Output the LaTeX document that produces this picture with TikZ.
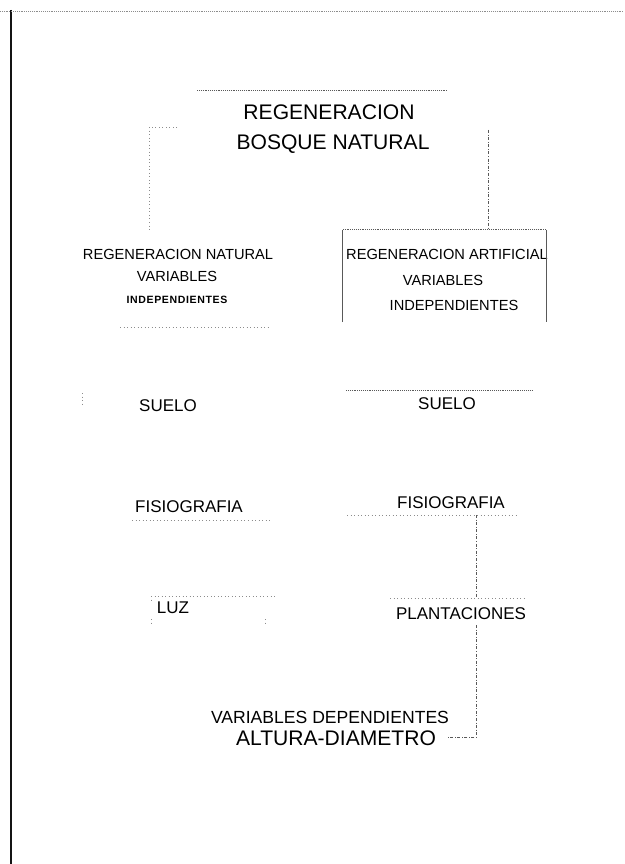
\documentclass[tikz,border=0pt]{standalone}
\usepackage{fontspec}
\setmainfont{Liberation Sans}
\definecolor{FrameClr}{rgb}{0.08,0.08,0.08}
\definecolor{RuleClr}{rgb}{0.35,0.35,0.35}
\definecolor{FaintClr}{rgb}{0.55,0.55,0.55}

\begin{document}
\begin{tikzpicture}[x=0.3mm,y=-0.3mm,
  titletxt/.style={inner sep=0pt,anchor=base,font=\fontsize{18}{20}\selectfont},
  midtxt/.style={inner sep=0pt,anchor=base,font=\fontsize{14.5}{16}\selectfont},
  boxtxt/.style={inner sep=0pt,anchor=base,font=\fontsize{12.5}{14}\selectfont},
  mintxt/.style={inner sep=0pt,anchor=base,font=\fontsize{9}{10}\selectfont\bfseries\addfontfeature{LetterSpace=6}},
  rule/.style={RuleClr,line width=0.6pt,densely dotted},
  faint/.style={FaintClr,line width=0.5pt,dash pattern=on 0.6pt off 2.4pt},
  link/.style={RuleClr,line width=0.6pt,dash pattern=on 2.5pt off 1.5pt on 0.6pt off 1.5pt}]

\useasboundingbox (0,0) rectangle (624,864);

\draw[FrameClr,line width=1.3pt] (11,10) -- (11,864);
\draw[rule,FaintClr] (0,11) -- (624,11);

\node[titletxt] (regA) at (329,120) {REGENERACION};
\node[titletxt] (regB) at (333,150) {BOSQUE NATURAL};

\node[boxtxt] (natA) at (178,260) {REGENERACION NATURAL};
\node[boxtxt] (natB) at (177,282) {VARIABLES};
\node[mintxt] (natC) at (177,303) {INDEPENDIENTES};

\node[minimum width=60.9mm,minimum height=27.6mm,inner sep=0pt] (art) at (444.5,276) {};
\node[boxtxt] (artA) at (447,260) {REGENERACION ARTIFICIAL};
\node[boxtxt] (artB) at (443,286) {VARIABLES};
\node[boxtxt] (artC) at (454,310) {INDEPENDIENTES};

\node[midtxt] (sueL) at (168,411) {SUELO};
\node[midtxt] (sueR) at (447,409) {SUELO};
\node[midtxt] (fisL) at (189,512) {FISIOGRAFIA};
\node[midtxt] (fisR) at (451,508) {FISIOGRAFIA};
\node[midtxt] (luz) at (173,613) {LUZ};
\node[midtxt] (plan) at (461,619) {PLANTACIONES};

\node[midtxt,font=\fontsize{15}{17}\selectfont] (depA) at (330,723) {VARIABLES DEPENDIENTES};
\node[titletxt] (altB) at (336,745) {ALTURA-DIAMETRO};

\coordinate (ttlL) at (197,90);
\coordinate (ttlR) at (448,90);
\coordinate (elbL) at (177,127);
\coordinate (hookL) at (149,232);
\coordinate (hookR) at (488,130);
\coordinate (fisRb) at (476,515);
\coordinate (planT) at (476,598);
\coordinate (planB) at (476,625);

\draw[rule] (ttlL) -- (ttlR);
\draw[faint] (elbL) -| (hookL);
\draw[link] (hookR) -- (hookR |- art.north);

\draw[rule] (art.north west) -- (art.north east);
\draw[RuleClr,line width=0.6pt] (art.south west) -- (art.north west) (art.north east) -- (art.south east);

\draw[faint] (120,327) -- (271,327);
\draw[faint] (82,393) -- (82,405);
\draw[rule] (346,390) -- (533,390);
\draw[faint] (132,520) -- (272,520);
\draw[faint] (347,515) -- (518,515);
\draw[faint] (151,596) -- (277,596);
\draw[faint] (151,596) -- (151,601) (151,619) -- (151,624) (265,619) -- (265,624);
\draw[faint] (390,598) -- (525,598);

\draw[link] (fisRb) -- (planT);
\draw[link] (planB) |- ([xshift=10pt]altB.east);

\end{tikzpicture}
\end{document}
